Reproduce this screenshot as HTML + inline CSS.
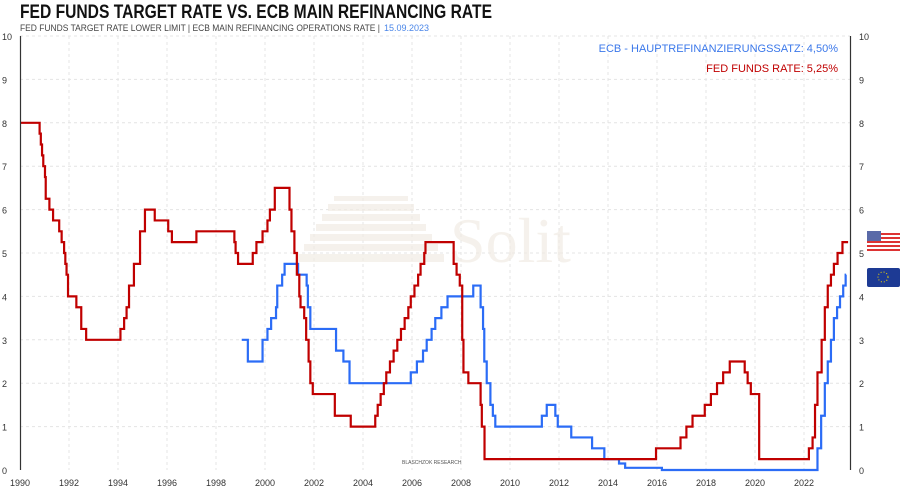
<!DOCTYPE html>
<html><head><meta charset="utf-8"><style>
body{margin:0;background:#fff;width:900px;height:491px;overflow:hidden;font-family:"Liberation Sans",sans-serif}
</style></head><body>
<svg id="s" width="900" height="491" xmlns="http://www.w3.org/2000/svg" font-family="Liberation Sans, sans-serif">
<text x="20" y="18" font-size="19" fill="#111" font-weight="bold" textLength="472" lengthAdjust="spacingAndGlyphs">FED FUNDS TARGET RATE  VS.  ECB MAIN REFINANCING RATE</text>
<text x="20" y="31" font-size="9" fill="#444" textLength="360" lengthAdjust="spacingAndGlyphs">FED FUNDS TARGET RATE LOWER LIMIT | ECB MAIN REFINANCING OPERATIONS RATE |</text>
<text x="384" y="31" font-size="9" fill="#4a86e8">15.09.2023</text>
<g id="grid"></g>
<g fill="#f1ece4" opacity="0.7">
<text x="450" y="262" font-size="64" font-family="Liberation Serif, serif">Solit</text>
<rect x="298" y="254" width="146" height="8"/><rect x="304" y="244" width="134" height="7"/><rect x="310" y="234" width="122" height="7"/><rect x="316" y="224" width="110" height="7"/><rect x="322" y="214" width="98" height="7"/><rect x="328" y="204" width="86" height="7"/><rect x="334" y="196" width="74" height="5"/>
</g>
<text x="838" y="52" font-size="11" fill="#3b78ea" text-anchor="end">ECB - HAUPTREFINANZIERUNGSSATZ: 4,50%</text>
<text x="838" y="72" font-size="11" fill="#c00000" text-anchor="end">FED FUNDS RATE: 5,25%</text>
<text x="402" y="464" font-size="5" fill="#555">BLASCHZOK   RESEARCH</text>
<g id="lines"></g>
<line x1="20.5" y1="36" x2="20.5" y2="470" stroke="#333" stroke-width="1.2"/>
<line x1="850.5" y1="36" x2="850.5" y2="470" stroke="#333" stroke-width="1.2"/>
<g>
<rect x="867" y="231" width="33" height="21" fill="#fff"/>
<g fill="#d33"><rect x="867" y="233" width="33" height="2"/><rect x="867" y="237" width="33" height="2"/><rect x="867" y="241" width="33" height="2"/><rect x="867" y="245" width="33" height="2"/><rect x="867" y="249" width="33" height="2"/></g>
<rect x="867" y="231" width="14" height="10" fill="#5a6aa8"/>
<rect x="867" y="268" width="33" height="19" fill="#1d3a94" rx="2"/>
<circle cx="883" cy="277" r="5" fill="none" stroke="#f5d800" stroke-dasharray="1 2"/>
</g>
</svg>
<script>
const X=y=>20+(y-1990)*24.5, Y=v=>470-v*43.4;
let g='';
for(let yr=1992;yr<=2022;yr+=2)g+=`<line x1="${X(yr)}" y1="36" x2="${X(yr)}" y2="470" stroke="#e4e4e4" stroke-dasharray="3 3"/>`;
for(let v=1;v<=10;v++)g+=`<line x1="20" y1="${Y(v)}" x2="850" y2="${Y(v)}" stroke="#e4e4e4" stroke-dasharray="3 3"/>`;
for(let v=0;v<=10;v++){g+=`<text x="2" y="${Y(v)+4}" font-size="9" fill="#333">${v}</text><text x="859" y="${Y(v)+4}" font-size="9" fill="#333">${v}</text>`;}
for(let yr=1990;yr<=2022;yr+=2)g+=`<text x="${X(yr)}" y="486" font-size="9" fill="#333" text-anchor="middle">${yr}</text>`;
document.getElementById('grid').innerHTML=g;
const fed=[[1990,8],[1990.8,7.75],[1990.85,7.5],[1990.9,7.25],[1990.95,7],[1991.02,6.75],[1991.05,6.25],[1991.2,6],[1991.35,5.75],[1991.6,5.5],[1991.7,5.25],[1991.8,5],[1991.85,4.75],[1991.9,4.5],[1991.96,4],[1992.3,3.75],[1992.5,3.25],[1992.7,3],[1994.1,3.25],[1994.25,3.5],[1994.35,3.75],[1994.45,4.25],[1994.65,4.75],[1994.9,5.5],[1995.1,6],[1995.5,5.75],[1996.05,5.5],[1996.2,5.25],[1997.2,5.5],[1998.75,5.25],[1998.8,5],[1998.9,4.75],[1999.5,5],[1999.65,5.25],[1999.9,5.5],[2000.1,5.75],[2000.2,6],[2000.4,6.5],[2001.0,6],[2001.08,5.5],[2001.2,5],[2001.3,4.5],[2001.4,4],[2001.45,3.75],[2001.6,3.5],[2001.68,3],[2001.78,2.5],[2001.85,2],[2001.95,1.75],[2002.85,1.25],[2003.5,1],[2004.5,1.25],[2004.6,1.5],[2004.72,1.75],[2004.85,2],[2004.95,2.25],[2005.1,2.5],[2005.25,2.75],[2005.4,3],[2005.55,3.25],[2005.7,3.5],[2005.85,3.75],[2005.95,4],[2006.1,4.25],[2006.25,4.5],[2006.35,4.75],[2006.5,5],[2006.55,5.25],[2007.7,4.75],[2007.82,4.5],[2007.95,4.25],[2008.05,3],[2008.1,2.25],[2008.3,2],[2008.8,1.5],[2008.85,1],[2008.96,0.25],[2015.96,0.5],[2016.96,0.75],[2017.2,1],[2017.45,1.25],[2017.95,1.5],[2018.2,1.75],[2018.45,2],[2018.7,2.25],[2018.97,2.5],[2019.58,2.25],[2019.7,2],[2019.83,1.75],[2020.17,0.25],[2022.2,0.5],[2022.35,0.75],[2022.45,1.5],[2022.55,2.25],[2022.72,3],[2022.85,3.75],[2022.97,4.25],[2023.1,4.5],[2023.22,4.75],[2023.37,5],[2023.57,5.25]];
const ecb=[[1999.05,3],[1999.3,2.5],[1999.9,3],[2000.1,3.25],[2000.25,3.5],[2000.45,3.75],[2000.5,4.25],[2000.7,4.5],[2000.8,4.75],[2001.35,4.5],[2001.7,4.25],[2001.75,3.75],[2001.85,3.25],[2002.9,2.75],[2003.2,2.5],[2003.45,2],[2005.95,2.25],[2006.2,2.5],[2006.45,2.75],[2006.6,3],[2006.8,3.25],[2006.95,3.5],[2007.2,3.75],[2007.45,4],[2008.5,4.25],[2008.8,3.75],[2008.9,3.25],[2008.95,2.5],[2009.05,2],[2009.2,1.5],[2009.3,1.25],[2009.4,1],[2011.3,1.25],[2011.5,1.5],[2011.85,1.25],[2011.95,1],[2012.5,0.75],[2013.35,0.5],[2013.85,0.25],[2014.45,0.15],[2014.7,0.05],[2016.2,0],[2022.55,0.5],[2022.7,1.25],[2022.85,2],[2022.97,2.5],[2023.1,3],[2023.22,3.5],[2023.35,3.75],[2023.47,4],[2023.6,4.25],[2023.7,4.5]];
function path(d,end){let p=`M${X(d[0][0])},${Y(d[0][1])}`;for(let i=1;i<d.length;i++){p+=`H${X(d[i][0])}V${Y(d[i][1])}`;}p+=`H${X(end)}`;return p;}
document.getElementById('lines').innerHTML=`<path d="${path(ecb,2023.72)}" fill="none" stroke="#2b6cf6" stroke-width="2.2"/><path d="${path(fed,2023.8)}" fill="none" stroke="#c00000" stroke-width="2.2"/>`;
</script>
</body></html>
